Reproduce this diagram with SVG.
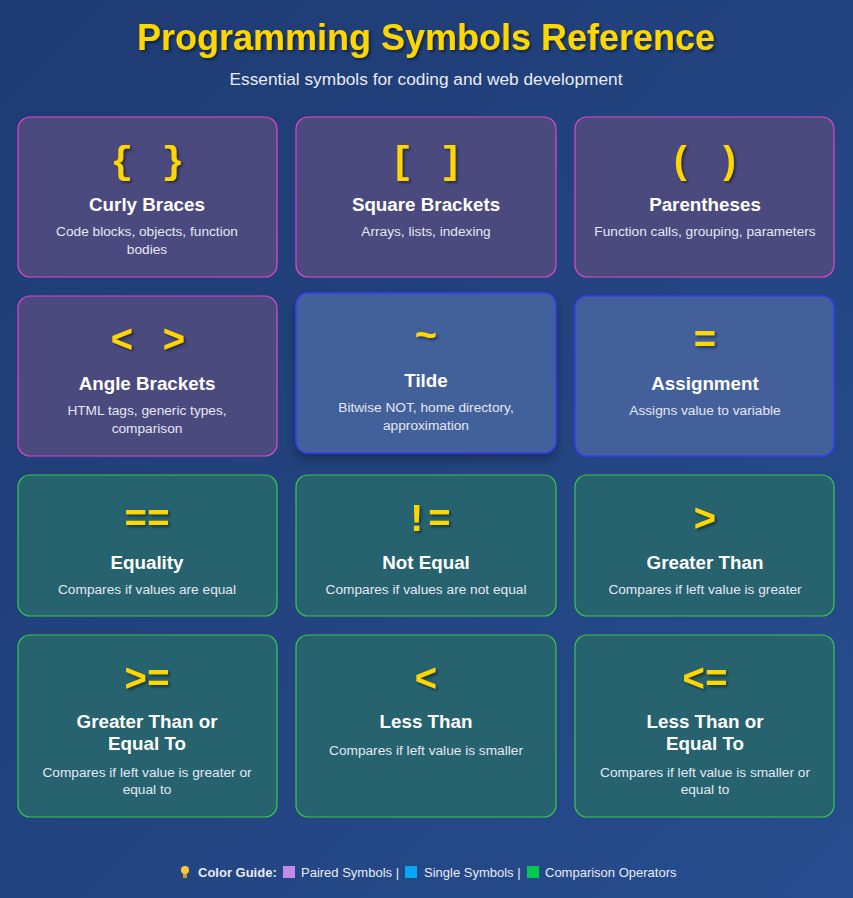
<svg xmlns="http://www.w3.org/2000/svg" width="853" height="898" viewBox="0 0 853 898">
<defs>
<linearGradient id="bg" x1="0" y1="0" x2="1" y2="1"><stop offset="0" stop-color="#1e3a72"/><stop offset="1" stop-color="#274d8e"/></linearGradient>
<filter id="sh" x="-20%" y="-20%" width="140%" height="140%"><feDropShadow dx="2" dy="2" stdDeviation="1.5" flood-color="#000" flood-opacity="0.45"/></filter>
<filter id="csh" x="-10%" y="-10%" width="120%" height="130%"><feDropShadow dx="0" dy="6" stdDeviation="6" flood-color="#000" flood-opacity="0.3"/></filter>
<style>
text{font-family:"Liberation Sans",Arial,sans-serif;text-anchor:middle}
.sym{font-family:"Liberation Mono","Courier New",monospace;font-size:38px;font-weight:bold;fill:#ffd700;filter:url(#sh)}
.t{font-size:18.8px;font-weight:bold;fill:#fff}
.d{font-size:13.7px;fill:#e4e8f4}
.p{fill:#4b4a7f;stroke:#e048c8;stroke-width:1.2}
.s{fill:#43609a;stroke:#3a3cf0;stroke-width:1.5}
.c{fill:#27626f;stroke:#38c84a;stroke-width:1.2}
.lg{font-size:13px;font-weight:bold;fill:#e8ecf6;text-anchor:start}
.n{font-weight:normal}
</style>
</defs>
<rect width="853" height="898" fill="url(#bg)"/>
<text x="426" y="50" style="font-size:36px;font-weight:bold;fill:#ffd700;filter:url(#sh)">Programming Symbols Reference</text>
<text x="426" y="85" style="font-size:17.3px;fill:#e8ecf6">Essential symbols for coding and web development</text>

<g id="curly"><rect class="p" x="18" y="117" width="259" height="160" rx="12"/><text class="sym" x="122" y="173">{</text><text class="sym" x="173" y="173">}</text><text class="t" x="147" y="211">Curly Braces</text><text class="d" x="147" y="236">Code blocks, objects, function</text><text class="d" x="147" y="254">bodies</text></g>
<g id="square"><rect class="p" x="296" y="117" width="260" height="160" rx="12"/><text class="sym" x="402" y="173">[</text><text class="sym" x="451" y="173">]</text><text class="t" x="426" y="211">Square Brackets</text><text class="d" x="426" y="236">Arrays, lists, indexing</text></g>
<g id="paren"><rect class="p" x="575" y="117" width="259" height="160" rx="12"/><text class="sym" x="681" y="173">(</text><text class="sym" x="729" y="173">)</text><text class="t" x="705" y="211">Parentheses</text><text class="d" x="705" y="236">Function calls, grouping, parameters</text></g>

<g id="angle"><rect class="p" x="18" y="296" width="259" height="160" rx="12"/><text class="sym" x="122" y="352">&lt;</text><text class="sym" x="174" y="352">&gt;</text><text class="t" x="147" y="390">Angle Brackets</text><text class="d" x="147" y="415">HTML tags, generic types,</text><text class="d" x="147" y="433">comparison</text></g>
<g id="tilde"><rect class="s" x="296" y="293" width="260" height="160" rx="12" style="filter:url(#csh)"/><text class="sym" x="426" y="348">~</text><text class="t" x="426" y="387">Tilde</text><text class="d" x="426" y="412">Bitwise NOT, home directory,</text><text class="d" x="426" y="430">approximation</text></g>
<g id="assign"><rect class="s" x="575" y="296" width="259" height="160" rx="12"/><text class="sym" x="705" y="352">=</text><text class="t" x="705" y="390">Assignment</text><text class="d" x="705" y="415">Assigns value to variable</text></g>

<g id="eq"><rect class="c" x="18" y="475" width="259" height="141" rx="12"/><text class="sym" x="147" y="531">==</text><text class="t" x="147" y="569">Equality</text><text class="d" x="147" y="594">Compares if values are equal</text></g>
<g id="neq"><rect class="c" x="296" y="475" width="260" height="141" rx="12"/><text class="sym" x="428" y="531">!=</text><text class="t" x="426" y="569">Not Equal</text><text class="d" x="426" y="594">Compares if values are not equal</text></g>
<g id="gt"><rect class="c" x="575" y="475" width="259" height="141" rx="12"/><text class="sym" x="705" y="531">&gt;</text><text class="t" x="705" y="569">Greater Than</text><text class="d" x="705" y="594">Compares if left value is greater</text></g>

<g id="gte"><rect class="c" x="18" y="635" width="259" height="182" rx="12"/><text class="sym" x="147" y="691">&gt;=</text><text class="t" x="147" y="728">Greater Than or</text><text class="t" x="147" y="750">Equal To</text><text class="d" x="147" y="777">Compares if left value is greater or</text><text class="d" x="147" y="794">equal to</text></g>
<g id="lt"><rect class="c" x="296" y="635" width="260" height="182" rx="12"/><text class="sym" x="426" y="691">&lt;</text><text class="t" x="426" y="728">Less Than</text><text class="d" x="426" y="755">Compares if left value is smaller</text></g>
<g id="lte"><rect class="c" x="575" y="635" width="259" height="182" rx="12"/><text class="sym" x="705" y="691">&lt;=</text><text class="t" x="705" y="728">Less Than or</text><text class="t" x="705" y="750">Equal To</text><text class="d" x="705" y="777">Compares if left value is smaller or</text><text class="d" x="705" y="794">equal to</text></g>

<g id="legend">
<circle cx="185" cy="870" r="4" fill="#ffc83d"/><rect x="183" y="874" width="4" height="4" fill="#c8a030"/>
<text class="lg" x="198" y="877">Color Guide:</text>
<rect x="283" y="866" width="12" height="12" fill="#c48ae6"/>
<text class="lg n" x="301" y="877">Paired Symbols |</text>
<rect x="405" y="866" width="12" height="12" fill="#03a9f4"/>
<text class="lg n" x="424" y="877">Single Symbols |</text>
<rect x="527" y="866" width="12" height="12" fill="#00c853"/>
<text class="lg n" x="545" y="877">Comparison Operators</text>
</g>
</svg>
